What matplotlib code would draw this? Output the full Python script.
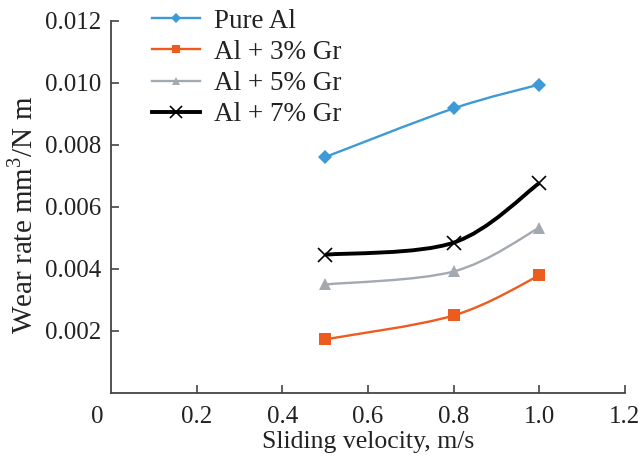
import numpy as np
import matplotlib
matplotlib.use("Agg")
from matplotlib import pyplot as plt
from matplotlib.path import Path
from matplotlib.patches import PathPatch

plt.rcParams['font.family'] = ['Liberation Serif', 'DejaVu Serif']
plt.rcParams['mathtext.fontset'] = 'custom'
plt.rcParams['mathtext.rm'] = 'Liberation Serif'

# data
velocity = [0.5, 0.8, 1.0]
pure_al = [0.00761, 0.00918, 0.00995]
al_3gr = [0.00173, 0.00250, 0.00379]
al_5gr = [0.00350, 0.00392, 0.00533]
al_7gr = [0.00446, 0.00485, 0.00677]
labels = ['Pure Al', 'Al + 3% Gr', 'Al + 5% Gr', 'Al + 7% Gr']
xtick_vals = [0.2, 0.4, 0.6, 0.8, 1.0, 1.2]
ytick_vals = [0.002, 0.004, 0.006, 0.008, 0.010, 0.012]


def smooth_path(x, y):
    # Catmull-Rom style bezier through the points (like a spreadsheet "smoothed line")
    x = np.asarray(x, float)
    y = np.asarray(y, float)
    verts = [(x[0], y[0])]
    codes = [Path.MOVETO]
    n = len(x)
    for i in range(n - 1):
        p0 = (x[max(i - 1, 0)], y[max(i - 1, 0)])
        p1 = (x[i], y[i])
        p2 = (x[i + 1], y[i + 1])
        p3 = (x[min(i + 2, n - 1)], y[min(i + 2, n - 1)])
        c1 = (p1[0] + (p2[0] - p0[0]) / 6, p1[1] + (p2[1] - p0[1]) / 6)
        c2 = (p2[0] - (p3[0] - p1[0]) / 6, p2[1] - (p3[1] - p1[1]) / 6)
        verts += [c1, c2, p2]
        codes += [Path.CURVE4] * 3
    return Path(verts, codes)


fig = plt.figure(figsize=(6.44, 4.63), dpi=100)
ax = fig.add_axes([0.1724, 0.1512, 0.798, 0.8035])

series = [pure_al, al_3gr, al_5gr, al_7gr]
colors = ['#3d9ad6', '#ee5b1e', '#a3a9b0', '#000000']
markers = ['D', 's', '^', 'x']
msizes = [7, 8, 8, 10]
lws = [1.7, 1.7, 1.7, 2.8]

for vals, c, m, ms, lw, lab in zip(series, colors, markers, msizes, lws, labels):
    ax.add_patch(PathPatch(smooth_path(velocity, vals), fill=False,
                           edgecolor=c, lw=lw, zorder=2))
    ax.plot(velocity, vals, linestyle='none', marker=m, color=c, ms=ms,
            mew=1.2 if m == 'x' else 0, zorder=3)
    ax.plot([], [], color=c, lw=lw, marker=m, ms=ms * 0.8,
            mew=1.2 if m == 'x' else 0, label=lab)

ax.set_xlim(0, 1.2)
ax.set_ylim(0, 0.012)
ax.set_xticks(xtick_vals)
ax.set_xticklabels(['%.1f' % v for v in xtick_vals])
ax.set_yticks(ytick_vals)
ax.set_yticklabels(['%.3f' % v for v in ytick_vals])

# the "0" sits a bit left of the corner
ax.annotate('0', xy=(0, 0), xycoords='data', xytext=(-10, -9.5),
            textcoords='offset points', ha='center', va='top', fontsize=18,
            color='#222222')

for s in ['top', 'right']:
    ax.spines[s].set_visible(False)
for s in ['left', 'bottom']:
    ax.spines[s].set_linewidth(1.3)
    ax.spines[s].set_color('#444444')
ax.tick_params(direction='in', length=6, width=1.2, labelsize=18,
               color='#444444', labelcolor='#222222')
ax.tick_params(axis='x', pad=9.5)
ax.tick_params(axis='y', pad=7)

ax.set_xlabel('Sliding velocity, m/s', fontsize=18.5, labelpad=2, color='#222222')
ax.set_ylabel('Wear rate mm$^3$/N m', fontsize=21, labelpad=5, color='#222222', y=0.478)

leg = ax.legend(loc='upper left', bbox_to_anchor=(0.079, 1.033), frameon=False,
                fontsize=19.5, handlelength=1.8, labelspacing=0.23, handletextpad=0.5,
                borderpad=0, borderaxespad=0)
for t in leg.get_texts():
    t.set_color('#222222')

fig.savefig('out.png', dpi=100)
